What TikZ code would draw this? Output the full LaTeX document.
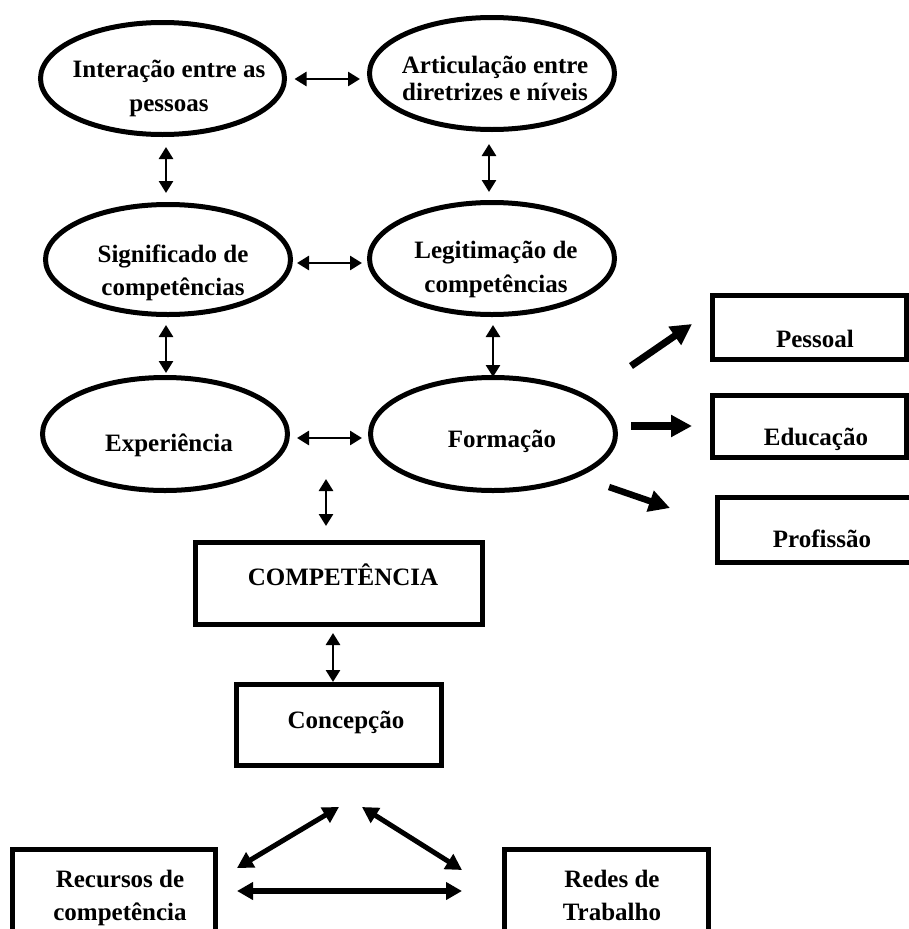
\documentclass[tikz,border=0pt]{standalone}
\usepackage{fontspec}
\setmainfont{Liberation Serif}
\usetikzlibrary{arrows.meta,shapes.geometric,calc}

\begin{document}
\begin{tikzpicture}[x=1pt,y=-1pt,
  oval/.style={draw,ellipse,line width=5pt,minimum width=245pt,minimum height=112pt,inner sep=0pt},
  box/.style={draw,rectangle,line width=5pt,inner sep=0pt},
  txt/.style={font=\bfseries\fontsize{25pt}{33pt}\selectfont,align=center,inner sep=0pt},
  twoway/.style={{Triangle[length=12pt,width=14pt]}-{Triangle[length=12pt,width=14pt]},line width=2.7pt},
  widetwo/.style={{Triangle[length=16pt,width=17pt]}-{Triangle[length=16pt,width=17pt]},line width=5pt},
  oneway/.style={-{Triangle[length=21pt,width=21pt]},line width=7pt}
]
\clip (0,0) rectangle (909,929);

% ellipses
\node[oval,minimum width=244pt] (inter) at (162.5,78.5) {};
\node[oval] (artic) at (492,73.5) {};
\node[oval,minimum height=110pt] (sig) at (168,259.5) {};
\node[oval] (legit) at (492,258.5) {};
\node[oval,minimum height=113pt] (exp) at (165,434) {};
\node[oval,minimum height=113pt] (form) at (493,434) {};

% boxes
\node[box,minimum width=194pt,minimum height=64pt] (pess) at (809.5,327.5) {};
\node[box,minimum width=194pt,minimum height=62pt] (educ) at (809.5,426.5) {};
\node[box,minimum width=200pt,minimum height=65pt] (prof) at (817.5,530) {};
\node[box,minimum width=287pt,minimum height=82pt] (comp) at (339,583.5) {};
\node[box,minimum width=205pt,minimum height=81pt] (conc) at (339,725) {};
\node[box,minimum width=203pt,minimum height=85pt] (recur) at (114,892) {};
\node[box,minimum width=204pt,minimum height=85pt] (redes) at (606.5,892) {};

% texts
\node[txt,font=\bfseries\fontsize{25pt}{34pt}\selectfont] (interT) at (169,88.9) {Interação entre as\\pessoas};
\node[txt,font=\bfseries\fontsize{25pt}{27pt}\selectfont] (articT) at (495,78.8) {Articulação entre\\diretrizes e níveis};
\node[txt] (sigT) at (173,272.7) {Significado de\\competências};
\node[txt,font=\bfseries\fontsize{25pt}{34pt}\selectfont] (legitT) at (496,269) {Legitimação de\\competências};
\node[txt,anchor=base] (expT) at (169,451) {Experiência};
\node[txt,anchor=base] (formT) at (502,447) {Formação};
\node[txt,anchor=base] (pessT) at (815,347) {Pessoal};
\node[txt,anchor=base] (educT) at (816,445) {Educação};
\node[txt,anchor=base] (profT) at (822,547) {Profissão};
\node[txt,anchor=base] (compT) at (343,585) {COMPETÊNCIA};
\node[txt,anchor=base] (concT) at (346,728) {Concepção};
\node[txt] (recurT) at (120,897.7) {Recursos de\\competência};
\node[txt] (redesT) at (612,895) {Redes de\\Trabalho};

% free ends of the floating connectors
\coordinate (hub) at (326,479);
\coordinate (apexL) at ($(conc.south)+(0,39)$);
\coordinate (apexR) at ($(conc.south)+(23,39)$);

% two-way links between the ellipses
\draw[twoway] ($(inter.east)+(7.5,0.5)$) -- ($(artic.west)+(-7,5.5)$);
\draw[twoway] ($(inter.south)+(3.5,10)$) -- ($(sig.north)+(-2,-9)$);
\draw[twoway] ($(artic.south)+(-3,12)$) -- ($(legit.north)+(-3,-8)$);
\draw[twoway] ($(sig.east)+(4,3.5)$) -- ($(legit.west)+(-5,4.5)$);
\draw[twoway] ($(sig.south)+(-2,8)$) -- ($(exp.north)+(1,-2)$);
\draw[twoway] ($(legit.south)+(1,8)$) -- ($(form.north)+(0,2)$);
\draw[twoway] ($(exp.east)+(7,4)$) -- ($(form.west)+(-6,4)$);
\draw[twoway] (hub) -- ($(comp.north)+(-13,-14)$);
\draw[twoway] ($(comp.south)+(-6,6)$) -- ($(conc.north)+(-6,0)$);

% triangle below the conception box
\draw[widetwo] (apexL) -- ($(recur.north east)+(19,21)$);
\draw[widetwo] (apexR) -- ($(redes.north west)+(-40,23)$);
\draw[widetwo,line width=6.5pt] ($(recur.east)+(19,-1)$) -- ($(redes.west)+(-40,-1)$);

% outputs of the training ellipse
\draw[oneway] ($(form.east)+(13,-68)$) -- ($(pess.west)+(-18,-3.5)$);
\draw[oneway,line width=8pt] ($(form.east)+(13,-8)$) -- ($(educ.west)+(-18,-0.5)$);
\draw[oneway,line width=6.5pt] ($(form.east)+(-9,53)$) -- ($(prof.west)+(-45,-22)$);
\end{tikzpicture}
\end{document}
